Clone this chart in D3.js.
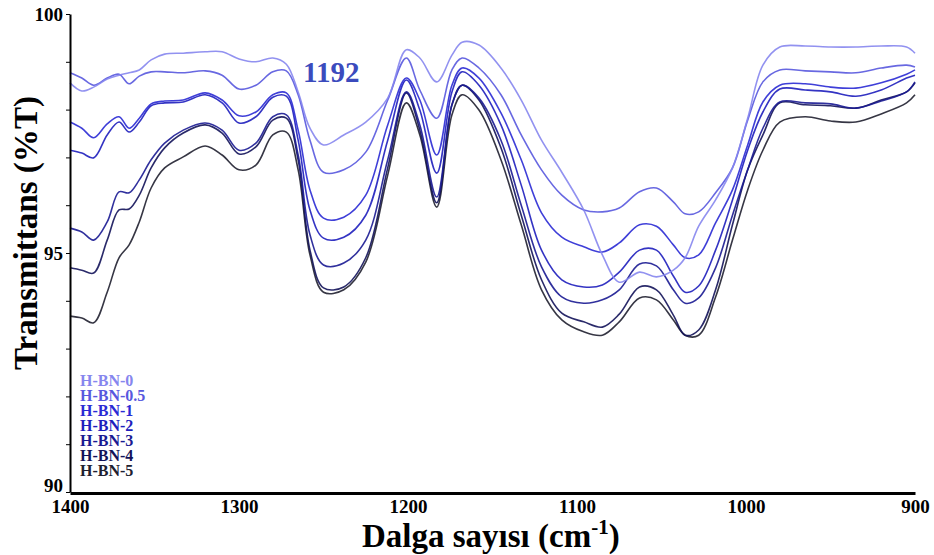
<!DOCTYPE html>
<html>
<head>
<meta charset="utf-8">
<script src="https://cdn.jsdelivr.net/npm/d3@7"></script>
<style>
  body { margin: 0; background: #fff; }
  svg { display: block; font-family: "Liberation Serif", "Times New Roman", serif; font-weight: bold; }
</style>
</head>
<body>
<svg id="svg" width="934" height="555"></svg>
<script>
// wavenumber grid (cm-1) shared by every spectrum
let wavenumbers = [1400, 1393, 1386, 1378, 1371, 1365, 1359, 1352, 1344, 1333, 1320, 1310, 1300, 1290, 1280, 1272, 1265, 1258, 1250, 1238,
  1225, 1212, 1201, 1193, 1183, 1174, 1168, 1158, 1145, 1133, 1121, 1109, 1096, 1085, 1075, 1063, 1053, 1043, 1036, 1028,
  1018, 1008, 999, 990, 980, 965, 950, 935, 920, 905, 900];

// transmittance (%T)
let hbn0 = [98.56, 98.39, 98.47, 98.64, 98.72, 98.77, 98.83, 99.04, 99.16, 99.18, 99.21, 99.21, 99.06, 99.00, 99.08, 98.95, 98.37, 97.61, 97.26, 97.47,
  97.74, 98.24, 99.25, 99.08, 98.58, 99.14, 99.41, 99.35, 98.87, 98.20, 97.36, 96.69, 95.90, 94.96, 94.39, 94.60, 94.50, 94.64, 94.90, 95.56,
  96.11, 96.78, 97.82, 98.93, 99.31, 99.33, 99.31, 99.31, 99.33, 99.31, 99.18];
let hbn05 = [98.77, 98.66, 98.51, 98.66, 98.74, 98.54, 98.70, 98.79, 98.79, 98.77, 98.81, 98.72, 98.43, 98.51, 98.79, 98.81, 98.31, 97.36, 96.69, 96.74,
  97.11, 98.20, 99.08, 98.41, 97.82, 98.83, 99.08, 98.87, 98.31, 97.47, 96.74, 96.21, 95.90, 95.86, 95.94, 96.28, 96.36, 96.07, 95.82, 95.86,
  96.26, 96.78, 97.78, 98.58, 98.83, 98.81, 98.79, 98.77, 98.87, 98.93, 98.89];
let hbn1 = [97.74, 97.61, 97.41, 97.70, 97.85, 97.61, 97.82, 98.12, 98.18, 98.20, 98.35, 98.20, 97.87, 97.95, 98.31, 98.35, 97.57, 96.32, 95.73, 95.75,
  96.21, 97.68, 98.66, 98.20, 97.05, 98.51, 98.87, 98.66, 97.93, 96.95, 95.84, 95.33, 95.13, 95.02, 95.21, 95.59, 95.56, 95.17, 94.90, 94.96,
  95.63, 96.32, 97.26, 98.16, 98.51, 98.54, 98.47, 98.45, 98.56, 98.74, 98.83];
let hbn2 = [97.15, 97.09, 96.99, 97.47, 97.74, 97.53, 97.74, 98.08, 98.14, 98.16, 98.31, 98.14, 97.72, 97.85, 98.26, 98.28, 97.36, 95.90, 95.31, 95.33,
  95.79, 97.36, 98.62, 97.99, 96.67, 98.37, 98.79, 98.51, 97.68, 96.42, 95.06, 94.44, 94.29, 94.33, 94.60, 95.06, 95.06, 94.52, 94.18, 94.31,
  95.06, 96.11, 97.15, 97.95, 98.43, 98.41, 98.37, 98.28, 98.41, 98.66, 98.72];
let hbn3 = [95.52, 95.44, 95.27, 95.65, 96.28, 96.26, 96.53, 96.95, 97.30, 97.57, 97.72, 97.57, 97.15, 97.30, 97.85, 97.89, 97.05, 95.38, 94.75, 94.79,
  95.27, 96.95, 98.37, 97.68, 96.17, 98.10, 98.51, 98.24, 97.36, 96.00, 94.71, 94.08, 93.95, 94.02, 94.23, 94.77, 94.73, 94.23, 93.95, 94.06,
  94.69, 95.79, 96.74, 97.61, 98.16, 98.14, 98.12, 98.03, 98.18, 98.37, 98.58];
let hbn4 = [94.69, 94.64, 94.58, 95.27, 95.90, 95.92, 96.21, 96.78, 97.20, 97.51, 97.68, 97.51, 97.07, 97.22, 97.78, 97.82, 96.95, 95.06, 94.27, 94.29,
  94.90, 96.78, 98.35, 97.57, 96.05, 98.10, 98.51, 98.20, 97.20, 95.79, 94.44, 93.74, 93.56, 93.45, 93.72, 94.29, 94.23, 93.70, 93.28, 93.39,
  94.23, 95.59, 96.74, 97.47, 98.14, 98.10, 98.08, 98.03, 98.20, 98.37, 98.56];
let hbn5 = [93.68, 93.64, 93.54, 94.18, 94.90, 95.17, 95.65, 96.36, 96.78, 97.01, 97.24, 97.05, 96.74, 96.84, 97.47, 97.53, 96.74, 94.96, 94.18, 94.23,
  94.81, 96.63, 98.14, 97.47, 95.96, 97.89, 98.31, 97.99, 96.95, 95.59, 94.23, 93.60, 93.35, 93.28, 93.56, 94.06, 94.02, 93.60, 93.28, 93.28,
  94.08, 95.27, 96.32, 97.15, 97.74, 97.85, 97.76, 97.74, 97.91, 98.14, 98.31];

let seriesNames = ["H-BN-0", "H-BN-0.5", "H-BN-1", "H-BN-2", "H-BN-3", "H-BN-4", "H-BN-5"];
let seriesValues = [hbn0, hbn05, hbn1, hbn2, hbn3, hbn4, hbn5];
let seriesColors = ["#8686ee", "#5858de", "#2a2ad4", "#1e1ebd", "#1a1a92", "#13135a", "#202030"];

let xTicks = [1400, 1300, 1200, 1100, 1000, 900];
let yTicks = [90, 91, 92, 93, 94, 95, 96, 97, 98, 99, 100];
let yLabels = [90, 95, 100];
let peakLabel = "1192";

function main() {
    let svg = d3.select("#svg");
    let x = d3.scaleLinear().domain([1400, 900]).range([70, 915]);
    let y = d3.scaleLinear().domain([90, 100]).range([492, 14]);

    let line = d3.line()
        .x((d) => x(d[0]))
        .y((d) => y(d[1]))
        .curve(d3.curveCatmullRom.alpha(0.5));

    // spectra, darkest underneath
    for (let i = seriesValues.length - 1; i >= 0; i--) {
        let pts = wavenumbers.map((w, k) => [w, seriesValues[i][k]]);
        svg.append("path")
            .datum(pts)
            .attr("d", line)
            .attr("fill", "none")
            .attr("stroke", seriesColors[i])
            .attr("stroke-width", 1.6)
            .attr("stroke-opacity", 0.9);
    }

    // axes
    let yAxis = svg.append("g")
        .attr("transform", "translate(70,0)")
        .call(d3.axisLeft(y).tickValues(yTicks).tickSize(4).tickSizeOuter(0).tickPadding(3)
            .tickFormat((d) => yLabels.includes(d) ? d : ""));
    yAxis.select(".domain").attr("stroke", "#000").attr("stroke-width", 2);
    yAxis.selectAll("text").attr("font-size", 19).attr("font-family", "Liberation Serif").attr("font-weight", "bold").attr("fill", "#000");
    // the 90 label sits a little above the bottom line in the figure
    yAxis.selectAll(".tick").filter((d) => d === 90).select("text").attr("dy", "-0.05em");

    let xAxis = svg.append("g")
        .attr("transform", "translate(0,493)")
        .call(d3.axisBottom(x).tickValues(xTicks).tickSize(0).tickSizeOuter(0).tickPadding(7)
            .tickFormat(d3.format("d")));
    xAxis.select(".domain").attr("stroke", "#000").attr("stroke-width", 3);
    xAxis.selectAll("text").attr("font-size", 19).attr("font-family", "Liberation Serif").attr("font-weight", "bold").attr("fill", "#000");

    // axis titles
    let xt = svg.append("text")
        .attr("x", 362).attr("y", 547)
        .attr("font-size", 33)
        .attr("fill", "#000");
    xt.append("tspan").text("Dalga sayısı (cm");
    xt.append("tspan").attr("font-size", 21).attr("dy", -13).text("-1");
    xt.append("tspan").attr("dy", 13).text(")");

    svg.append("text")
        .attr("transform", "translate(37,370) rotate(-90)")
        .attr("font-size", 33)
        .attr("textLength", 274)
        .attr("lengthAdjust", "spacingAndGlyphs")
        .attr("fill", "#000")
        .text("Transmittans (%T)");

    // peak annotation
    svg.append("text")
        .attr("x", 303).attr("y", 82)
        .attr("font-size", 29)
        .attr("fill", "#3b4bbd")
        .text(peakLabel);

    // legend
    svg.selectAll(".legend")
        .data(seriesNames)
        .enter()
        .append("text")
        .attr("class", "legend")
        .attr("x", 80)
        .attr("y", (d, i) => 386 + i * 15)
        .attr("font-size", 16)
        .attr("fill", (d, i) => seriesColors[i])
        .text((d) => d);
}
main();
</script>
</body>
</html>
